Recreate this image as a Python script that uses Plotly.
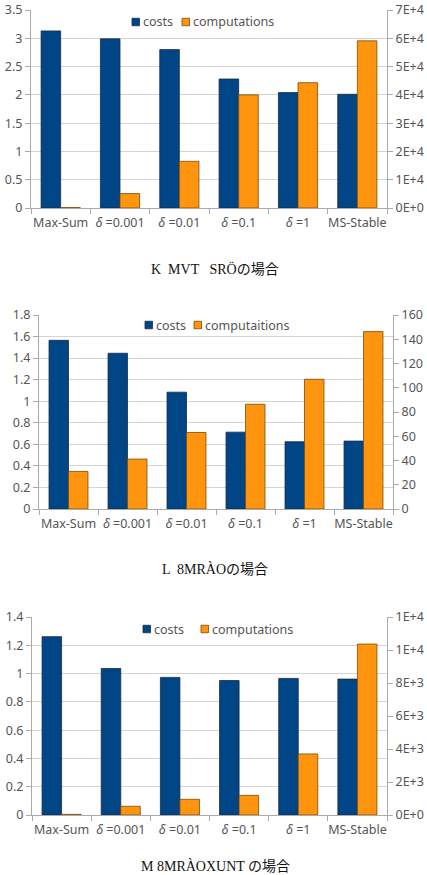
import plotly.graph_objects as go

categories = ["Max-Sum", "δ =0.001", "δ =0.01", "δ =0.1", "δ =1", "MS-Stable"]
cat_labels = ["Max-Sum", "<i>δ</i> =0.001", "<i>δ</i> =0.01", "<i>δ</i> =0.1", "<i>δ</i> =1", "MS-Stable"]

costs1 = [3.13, 2.99, 2.80, 2.28, 2.04, 2.01]
comp1 = [150, 5100, 16500, 40000, 44300, 59100]
costs2 = [1.565, 1.445, 1.084, 0.713, 0.624, 0.63]
comp2 = [31, 41.2, 63.1, 86.4, 107, 146.3]
costs3 = [1.261, 1.036, 0.973, 0.951, 0.966, 0.961]
comp3 = [40, 530, 950, 1190, 3700, 10360]

titles = ["K  MVT   SRÖの場合", "L  8MRÀOの場合", "M 8MRÀOXUNT の場合"]
comp_names = ["computations", "computaitions", "computations"]

left_ticks = [
    [0, 0.5, 1, 1.5, 2, 2.5, 3, 3.5],
    [0, 0.2, 0.4, 0.6, 0.8, 1, 1.2, 1.4, 1.6, 1.8],
    [0, 0.2, 0.4, 0.6, 0.8, 1, 1.2, 1.4],
]
left_text = [
    ["0", "0.5", "1", "1.5", "2", "2.5", "3", "3.5"],
    ["0", "0.2", "0.4", "0.6", "0.8", "1", "1.2", "1.4", "1.6", "1.8"],
    ["0", "0.2", "0.4", "0.6", "0.8", "1", "1.2", "1.4"],
]
right_ticks = [
    [0, 10000, 20000, 30000, 40000, 50000, 60000, 70000],
    [0, 20, 40, 60, 80, 100, 120, 140, 160],
    [0, 2000, 4000, 6000, 8000, 10000, 12000],
]
right_text = [
    ["0E+0", "1E+4", "2E+4", "3E+4", "4E+4", "5E+4", "6E+4", "7E+4"],
    ["0", "20", "40", "60", "80", "100", "120", "140", "160"],
    ["0E+0", "2E+3", "4E+3", "6E+3", "8E+3", "1E+4", "1E+4"],
]
costs_all = [costs1, costs2, costs3]
comp_all = [comp1, comp2, comp3]

W, H = 427, 875
# plot areas in pixels: (left, right, top, bottom)
areas = [(31, 387, 10, 208), (39, 393, 315, 509), (32, 387, 617, 815)]
title_y = [269, 569, 866]
# legend layout in px: (blue square x, orange square x, y)
legend_px = [(132, 182, 22), (145, 194, 325), (143, 201, 629)]

BLUE = "#004586"
ORANGE = "#ff950e"
FONT = "Noto Sans, DejaVu Sans, sans-serif"
TICKFONT = dict(family=FONT, size=12.5, color="#555555")

fig = go.Figure()
layout = dict(
    width=W, height=H, margin=dict(l=0, r=0, t=0, b=0),
    paper_bgcolor="white", plot_bgcolor="white",
    barmode="group", bargap=0.34, bargroupgap=0.0,
    showlegend=False,
    annotations=[], shapes=[],
)

for i in range(3):
    xa = "x" if i == 0 else f"x{i+1}"
    yl = "y" if i == 0 else f"y{2*i+1}"
    yr = f"y{2*i+2}"
    fig.add_trace(go.Bar(x=categories, y=costs_all[i], name="costs", xaxis=xa, yaxis=yl,
                         marker=dict(color=BLUE, line=dict(color="#1a2a44", width=0.8)),
                         offsetgroup="a"))
    fig.add_trace(go.Bar(x=categories, y=comp_all[i], name=comp_names[i], xaxis=xa, yaxis=yr,
                         marker=dict(color=ORANGE, line=dict(color="#7a4a06", width=0.8)),
                         offsetgroup="b"))
    l, r, t, b = areas[i]
    xdom = [l / W, r / W]
    ydom = [1 - b / H, 1 - t / H]
    xkey = "xaxis" if i == 0 else f"xaxis{i+1}"
    ylkey = "yaxis" if i == 0 else f"yaxis{2*i+1}"
    yrkey = f"yaxis{2*i+2}"
    layout[xkey] = dict(domain=xdom, anchor=yl, type="category",
                        tickvals=categories, ticktext=cat_labels, tickangle=0,
                        tickson="boundaries", ticks="outside", ticklen=5, tickcolor="#aaaaaa",
                        ticklabelstandoff=3,
                        showline=True, linecolor="#aaaaaa", linewidth=1, automargin=False,
                        tickfont=TICKFONT, showgrid=False, fixedrange=True)
    layout[ylkey] = dict(domain=ydom, anchor=xa, range=[0, left_ticks[i][-1]],
                         tickvals=left_ticks[i], ticktext=left_text[i],
                         ticks="outside", ticklen=5, tickcolor="#aaaaaa", automargin=False,
                         showline=True, linecolor="#aaaaaa", linewidth=1,
                         showgrid=True, gridcolor="#d4d4d4", gridwidth=1,
                         zeroline=False, tickfont=TICKFONT)
    layout[yrkey] = dict(overlaying=yl, anchor=xa, side="right",
                         range=[0, right_ticks[i][-1]],
                         tickvals=right_ticks[i], ticktext=right_text[i],
                         ticks="outside", ticklen=5, tickcolor="#aaaaaa", automargin=False,
                         showline=True, linecolor="#aaaaaa", linewidth=1,
                         showgrid=False, zeroline=False, tickfont=TICKFONT)
    # legend drawn as squares + labels
    bx, ox, ly = legend_px[i]
    sq = 7.5
    for sx, col, lc, name in [(bx, BLUE, "#1a2a44", "costs"), (ox, ORANGE, "#7a4a06", comp_names[i])]:
        layout["shapes"].append(dict(type="rect", xref="paper", yref="paper",
                                     x0=sx / W, x1=(sx + sq) / W,
                                     y0=1 - (ly + sq / 2) / H, y1=1 - (ly - sq / 2) / H,
                                     fillcolor=col, line=dict(color=lc, width=0.8)))
        layout["annotations"].append(dict(text=name, x=(sx + sq + 1.5) / W, y=1 - ly / H,
                                          xref="paper", yref="paper", xanchor="left", yanchor="middle",
                                          showarrow=False, font=dict(family=FONT, size=12.5, color="#555555")))
    layout["annotations"].append(dict(
        text=titles[i], x=215 / W, y=1 - title_y[i] / H, xref="paper", yref="paper",
        xanchor="center", yanchor="middle", showarrow=False,
        font=dict(family="Liberation Serif, DejaVu Serif, Noto Sans CJK JP, serif", size=14, color="#111111")))

fig.update_layout(**layout)
fig.write_html("out.html")
